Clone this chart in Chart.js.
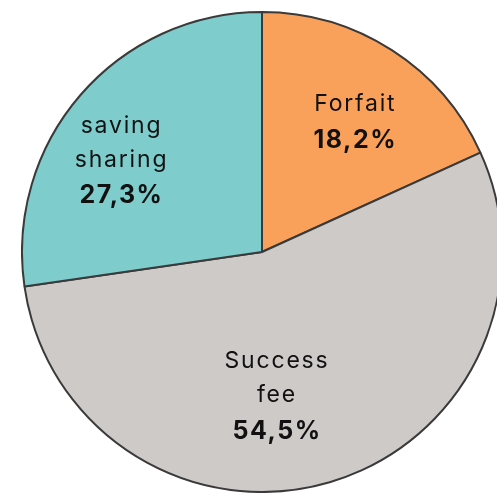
<!DOCTYPE html>
<html>
<head>
<meta charset="utf-8">
<script src="https://cdn.jsdelivr.net/npm/chart.js@4.4.0/dist/chart.umd.min.js"></script>
<style>
  html, body { margin: 0; padding: 0; background: #fff; }
  #wrap { position: relative; width: 497px; height: 493px; overflow: hidden; }
  #myChart { position: absolute; left: 21px; top: 11px; }
</style>
</head>
<body>
<div id="wrap">
  <canvas id="myChart" width="482" height="482"></canvas>
</div>
<script>
const categories = ['Forfait', 'Success fee', 'saving sharing'];
const labelLines = [['Forfait'], ['Success', 'fee'], ['saving', 'sharing']];
const shares = [18.2, 54.5, 27.3];
const colors = ['#F9A15B', '#CECAC8', '#7ECCCC'];

// where each label sits inside its slice (angle shift in degrees, radius fraction)
const labelPlace = [
	{ shift: 2.7, r: 0.67 },
	{ shift: 10.4, r: 0.60 },
	{ shift: -7.6, r: 0.70 }
];

const fmt = v => v.toFixed(1).replace('.', ',') + '%';

const sliceLabels = {
	id: 'sliceLabels',
	afterDatasetsDraw(chart) {
		const ctx = chart.ctx;
		const meta = chart.getDatasetMeta(0);
		meta.data.forEach((arc, i) => {
			const mid = (arc.startAngle + arc.endAngle) / 2 + labelPlace[i].shift * Math.PI / 180;
			const rad = arc.outerRadius * labelPlace[i].r;
			const cx = arc.x + Math.cos(mid) * rad;
			const cy = arc.y + Math.sin(mid) * rad;
			const lines = labelLines[i];
			const lh = 34;
			const total = lines.length + 1;
			let y = cy - (total - 1) * lh / 2;
			ctx.save();
			ctx.textAlign = 'center';
			ctx.textBaseline = 'middle';
			ctx.fillStyle = '#111';
			ctx.letterSpacing = '1.8px';
			ctx.font = '400 23px Inter';
			lines.forEach(l => {
				ctx.fillText(l, cx, y);
				y += lh;
			});
			ctx.letterSpacing = '1.5px';
			ctx.font = '700 25px Inter';
			ctx.fillText(fmt(shares[i]), cx, y + 2);
			ctx.restore();
		});
	}
};

new Chart(document.getElementById('myChart'), {
	type: 'pie',
	data: {
		labels: categories,
		datasets: [{
			data: shares,
			backgroundColor: colors,
			borderColor: '#3A3A3A',
			borderWidth: 2,
			hoverOffset: 0
		}]
	},
	options: {
		responsive: false,
		animation: false,
		events: [],
		plugins: {
			legend: { display: false },
			tooltip: { enabled: false }
		}
	},
	plugins: [sliceLabels]
});
</script>
</body>
</html>
